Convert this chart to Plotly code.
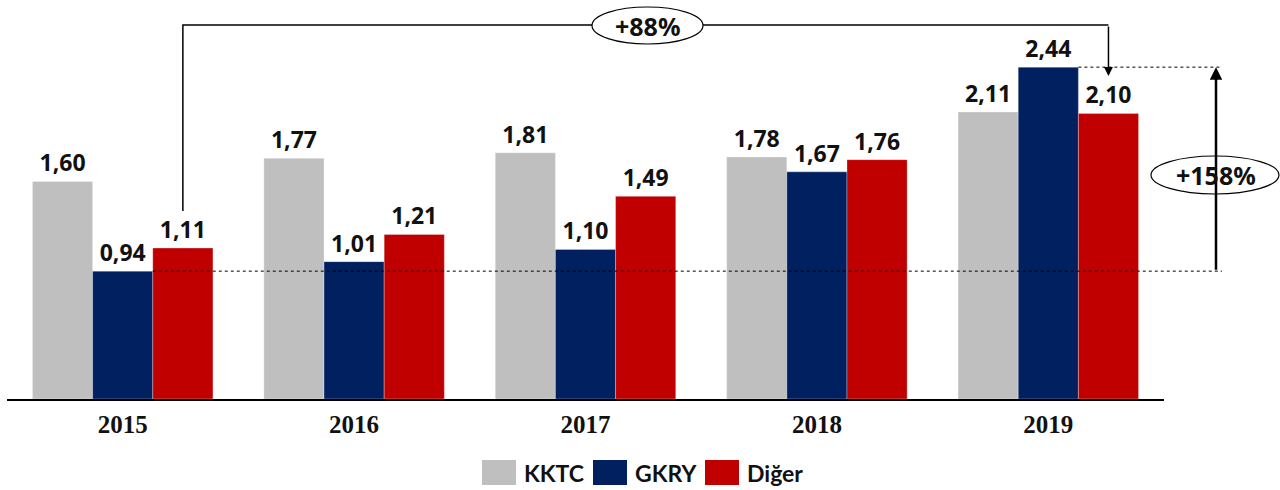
import plotly.graph_objects as go

years = ["2015", "2016", "2017", "2018", "2019"]
series_names = ["KKTC", "GKRY", "Diğer"]
kktc = [1.60, 1.77, 1.81, 1.78, 2.11]
gkry = [0.94, 1.01, 1.10, 1.67, 2.44]
diger = [1.11, 1.21, 1.49, 1.76, 2.10]
colors = ["#BFBFBF", "#002060", "#C00000"]
growth_labels = ["+88%", "+158%"]

W, H = 1280, 490
ML, MR, MT, MB = 7, 116, 2, 91
PW = W - ML - MR
PH = H - MT - MB
YMAX = 2.919

def px_x(px):
    return (px - ML) / PW

def px_y(py):
    return (H - MB - py) / PH

def dx_to_paper(x):
    return (x + 0.5) / 5.0

def px_to_val(py):
    return (H - MB - py) / PH * YMAX

xs = list(range(len(years)))
fig = go.Figure()
for name, vals, col in zip(series_names, [kktc, gkry, diger], colors):
    fig.add_trace(go.Bar(
        x=xs, y=vals, name=name, marker=dict(color=col, line=dict(color="rgba(255,255,255,0.6)", width=0.5)),
        texttemplate="%{y:.2f}", textposition="outside", cliponaxis=False,
        textfont=dict(family="Noto Sans", size=23, color="#111", weight="bold"),
        showlegend=False, hoverinfo="skip",
    ))

bw = 0.78 / 3
shapes = []
annos = []
# dashed reference lines
xr = px_x(1222)
shapes.append(dict(type="line", xref="paper", yref="y", x0=dx_to_paper(0 + bw / 2), x1=xr,
                   y0=gkry[0], y1=gkry[0], line=dict(color="black", width=1, dash="3px,3px")))
shapes.append(dict(type="line", xref="paper", yref="y", x0=dx_to_paper(4 + bw / 2), x1=xr,
                   y0=gkry[4], y1=gkry[4], line=dict(color="black", width=1, dash="3px,3px")))
# bracket
xl = dx_to_paper(0 + bw)
xrb = dx_to_paper(4 + bw)
ytop = px_to_val(25)
ybot = px_to_val(211)
shapes.append(dict(type="path", xref="paper", yref="y",
                   path=f"M {xl},{ybot} L {xl},{ytop} L {xrb},{ytop}",
                   line=dict(color="black", width=1.5)))
tip = px_to_val(76)
annos.append(dict(x=xrb, y=tip, xref="paper", yref="y", text="", showarrow=True,
                  ax=0, ay=-(76 - 25), arrowhead=2, arrowsize=1.2, arrowwidth=1.5, arrowcolor="black"))
# +88% ellipse
shapes.append(dict(type="circle", xref="paper", yref="paper", x0=px_x(592), x1=px_x(703),
                   y0=px_y(44), y1=px_y(7), fillcolor="white", line=dict(color="black", width=1.2)))
annos.append(dict(x=px_x(647), y=px_y(26), xref="paper", yref="paper", text=growth_labels[0],
                  xanchor="center", yanchor="middle", showarrow=False,
                  font=dict(family="Noto Sans", size=25, color="#111", weight="bold")))
# right arrow
xa = px_x(1216)
annos.append(dict(x=xa, y=gkry[4], xref="paper", yref="y", text="", showarrow=True,
                  ax=0, ay=(gkry[4] - gkry[0]) / YMAX * PH, arrowhead=2, arrowsize=1,
                  arrowwidth=2.5, arrowcolor="black"))
shapes.append(dict(type="circle", xref="paper", yref="paper", x0=px_x(1151), x1=px_x(1279),
                   y0=px_y(194), y1=px_y(156), fillcolor="white", line=dict(color="black", width=1.2)))
annos.append(dict(x=px_x(1216), y=px_y(175), xref="paper", yref="paper", text=growth_labels[1],
                  xanchor="center", yanchor="middle", showarrow=False,
                  font=dict(family="Noto Sans", size=25, color="#111", weight="bold")))
# legend
sw_left = [482, 593, 705]
for name, col, lx in zip(series_names, colors, sw_left):
    shapes.append(dict(type="rect", xref="paper", yref="paper", x0=px_x(lx), x1=px_x(lx + 34),
                       y0=px_y(485), y1=px_y(460), fillcolor=col, line=dict(width=0)))
    annos.append(dict(x=px_x(lx + 40), y=px_y(473), xref="paper", yref="paper", text=name,
                      xanchor="left", yanchor="middle", showarrow=False,
                      font=dict(family="Lato", size=23, color="#111", weight="bold")))

fig.update_layout(
    width=W, height=H, margin=dict(l=ML, r=MR, t=MT, b=MB),
    plot_bgcolor="white", paper_bgcolor="white",
    barmode="group", bargap=0.22, bargroupgap=0,
    separators=",.",
    shapes=shapes, annotations=annos,
    xaxis=dict(range=[-0.5, 4.5], tickvals=xs, ticktext=years, showline=True, linecolor="black",
               linewidth=2, showgrid=False, zeroline=False, ticks="", ticklabelstandoff=2,
               tickfont=dict(family="Liberation Serif", size=25, color="#111", weight="bold")),
    yaxis=dict(range=[0, YMAX], visible=False, showgrid=False, zeroline=False),
    showlegend=False,
)
fig.write_html("out.html", config={"displayModeBar": False},
               post_script="document.body.style.margin='0';document.body.style.overflow='hidden';")
